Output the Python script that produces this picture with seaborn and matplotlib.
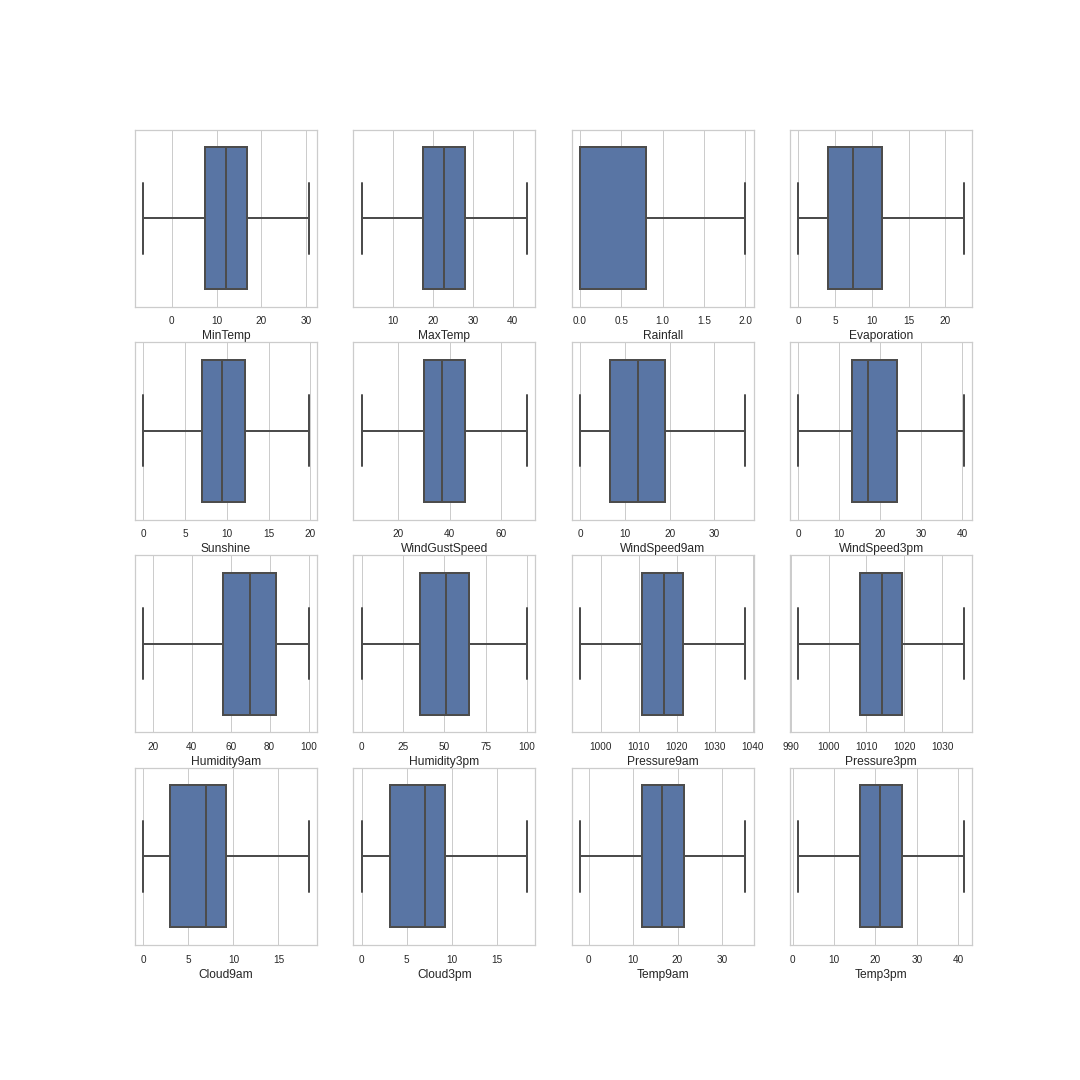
import numpy as np
import pandas as pd
import matplotlib
matplotlib.use("Agg")
import matplotlib.pyplot as plt
from matplotlib.ticker import MaxNLocator
import seaborn as sns

#-----------------------------------------------------------------------
# Five-number summaries (min, q1, median, q3, max)
columns = ['MinTemp', 'MaxTemp', 'Rainfall', 'Evaporation',
           'Sunshine', 'WindGustSpeed', 'WindSpeed9am', 'WindSpeed3pm',
           'Humidity9am', 'Humidity3pm', 'Pressure9am', 'Pressure3pm',
           'Cloud9am', 'Cloud3pm', 'Temp9am', 'Temp3pm']
mins    = [-6.4,  2.1, 0.0,  0.0,  0.0,  5.7,  0.0,  0.0,
           15.2,  0.0,  994.6,  992.0, 0.0, 0.0, -2.0,  1.4]
q1s     = [ 7.4, 17.6, 0.0,  4.0,  7.0, 30.0,  6.7, 13.0,
           56.0, 35.0, 1010.9, 1008.3, 3.0, 3.1, 12.1, 16.3]
medians = [12.0, 22.7, 0.0,  7.4,  9.4, 37.0, 13.0, 17.0,
           70.0, 51.0, 1016.7, 1014.0, 7.0, 7.0, 16.6, 21.1]
q3s     = [16.8, 28.1, 0.8, 11.4, 12.2, 46.0, 19.0, 24.0,
           83.0, 65.0, 1021.7, 1019.3, 9.2, 9.2, 21.4, 26.4]
maxs    = [30.6, 43.6, 2.0, 22.5, 19.8, 70.2, 36.9, 40.4,
           100.0, 100.0, 1038.0, 1035.7, 18.35, 18.3, 35.3, 41.3]

df = pd.DataFrame(
    np.array([mins, q1s, medians, q3s, maxs]),
    columns=columns
)

#-----------------------------------------------------------------------
sns.set_theme(style='whitegrid')
plt.rcParams['font.family'] = ['Liberation Sans', 'DejaVu Sans']
plt.rcParams['axes.labelsize'] = 12
plt.rcParams['xtick.labelsize'] = 10

fig, axes = plt.subplots(4, 4, figsize=(15, 15), dpi=72)
fig.subplots_adjust(left=0.125, right=0.9, top=0.88, bottom=0.125,
                    wspace=0.2, hspace=0.2)

for ax, col in zip(axes.flat, columns):
    sns.boxplot(
        x=df[col], ax=ax,
        color='#4c72b0', saturation=0.75,
        linecolor='#4c4c4c', linewidth=2,
        whis=(0, 100), width=0.8,
    )
    ax.xaxis.set_major_locator(MaxNLocator(nbins=5, steps=[1, 2, 2.5, 5, 10]))
    ax.set_xlabel(col)
    ax.set_ylabel('')

fig.savefig('out.png', dpi=72)
